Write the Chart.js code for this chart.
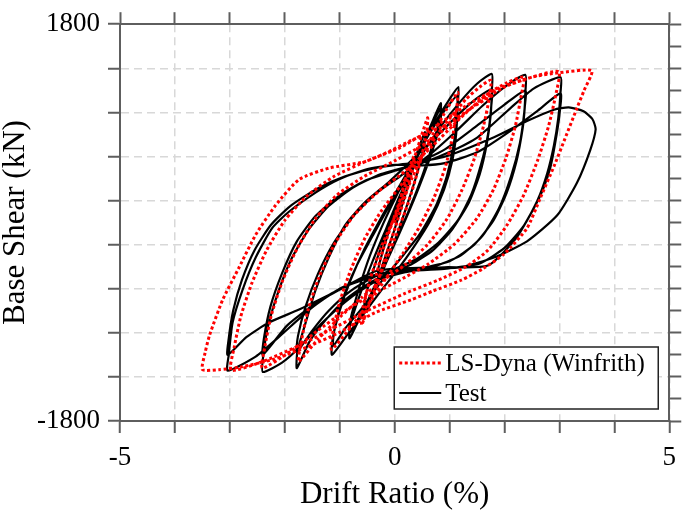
<!DOCTYPE html>
<html>
<head>
<meta charset="utf-8">
<script src="https://cdn.jsdelivr.net/npm/chart.js@4.4.0/dist/chart.umd.min.js"></script>
<style>
  html, body { margin: 0; padding: 0; background: #fff; }
  #wrap { width: 685px; height: 510px; }
</style>
</head>
<body>
<div id="wrap"><canvas id="chart" width="685" height="510"></canvas></div>
<script>
// Hysteresis: drift ratio (%) vs base shear (kN)

// Tick labels
const xTickLabels = [-5, 0, 5];
const yTickLabels = [-1800, 0, 1800];

// Test cycles [drift %, shear kN]
const testCycle1 = [[0,0],[0.1,170],[0.2,350],[0.3,520],[0.29,420],[0.15,180],[0,-60],[-0.15,-280],[-0.3,-500]];
const testCycle2 = [[-0.29,-400],[-0.15,-150],[0,80],[0.2,360],[0.4,620],[0.55,820],[0.54,700],[0.4,430],[0.2,120],[0,-170],[-0.2,-420],[-0.4,-640],[-0.55,-800]];
const testCycle3 = [[-0.54,-690],[-0.4,-450],[-0.2,-160],[0,100],[0.25,400],[0.5,700],[0.7,930],[0.84,1083],[0.83,960],[0.7,720],[0.5,420],[0.25,100],[0,-180],[-0.25,-450],[-0.5,-720],[-0.82,-1050]];
const testCycle4 = [[-0.81,-930],[-0.65,-680],[-0.4,-350],[-0.15,-50],[0.1,250],[0.35,520],[0.6,800],[0.84,1040],[0.83,900],[0.68,640],[0.45,330],[0.2,30],[-0.05,-250],[-0.3,-520],[-0.55,-770],[-0.82,-1000]];
const testCycle5 = [[-0.8,-870],[-0.65,-600],[-0.45,-300],[-0.2,0],[0.05,260],[0.3,500],[0.55,740],[0.8,960],[1.0,1120],[1.16,1231],[1.15,1080],[1.12,800],[1.05,560],[0.9,300],[0.65,20],[0.35,-220],[0.05,-430],[-0.25,-620],[-0.55,-820],[-0.85,-1010],[-1.14,-1199]];
const testCycle6 = [[-1.13,-1060],[-1.0,-800],[-0.8,-520],[-0.55,-240],[-0.25,40],[0.05,300],[0.35,560],[0.65,820],[0.9,1010],[1.14,1150],[1.13,1000],[1.08,720],[0.95,420],[0.75,150],[0.45,-110],[0.1,-330],[-0.25,-540],[-0.6,-780],[-0.9,-960],[-1.12,-1120]];
const testCycle7 = [[-1.1,-980],[-0.95,-700],[-0.7,-400],[-0.4,-120],[-0.1,150],[0.2,380],[0.5,620],[0.85,880],[1.2,1100],[1.5,1260],[1.77,1349],[1.77,1200],[1.75,980],[1.68,720],[1.55,440],[1.35,180],[1.05,-60],[0.7,-250],[0.3,-380],[-0.1,-460],[-0.5,-560],[-0.9,-700],[-1.25,-880],[-1.55,-1080],[-1.78,-1320]];
const testCycle8 = [[-1.77,-1170],[-1.62,-907],[-1.44,-612],[-1.2,-317],[-0.9,-22],[-0.54,184],[-0.12,361],[0.3,560],[0.8,800],[1.2,1000],[1.5,1130],[1.77,1210],[1.76,1060],[1.7,800],[1.58,540],[1.4,260],[1.15,20],[0.8,-180],[0.4,-330],[0,-420],[-0.4,-500],[-0.8,-620],[-1.2,-800],[-1.5,-980],[-1.78,-1172]];
const testCycle9 = [[-1.76,-1030],[-1.62,-760],[-1.4,-470],[-1.1,-180],[-0.75,60],[-0.35,260],[0.1,420],[0.6,600],[1.1,820],[1.6,1060],[2.0,1230],[2.38,1340],[2.38,1180],[2.36,1000],[2.28,720],[2.12,420],[1.9,130],[1.6,-120],[1.2,-300],[0.7,-400],[0.2,-450],[-0.3,-520],[-0.8,-680],[-1.3,-900],[-1.75,-1140],[-2.05,-1270],[-2.4,-1355]];
const testCycle10 = [[-2.39,-1200],[-2.3,-930],[-2.12,-630],[-1.88,-330],[-1.56,-60],[-1.2,150],[-0.75,320],[-0.25,440],[0.3,520],[0.9,660],[1.5,880],[2.0,1070],[2.38,1200],[2.37,1050],[2.33,850],[2.22,560],[2.04,270],[1.8,20],[1.45,-200],[1.0,-350],[0.4,-420],[-0.2,-460],[-0.8,-560],[-1.4,-720],[-1.95,-930],[-2.4,-1199]];
const testCycle11 = [[-2.38,-1050],[-2.26,-760],[-2.05,-460],[-1.78,-170],[-1.44,60],[-1.02,240],[-0.54,380],[0,470],[0.5,540],[1.0,640],[1.51,774],[2.11,1039],[2.53,1216],[3.02,1320],[3.02,1180],[2.98,950],[2.9,700],[2.78,450],[2.6,200],[2.35,-30],[2.0,-230],[1.55,-370],[0.9,-420],[0.2,-440],[-0.4,-480],[-1.0,-600],[-1.51,-774],[-2.11,-1039],[-2.53,-1216],[-3.04,-1343]];
const testCycle12 = [[-3.02,-1200],[-2.95,-907],[-2.77,-612],[-2.53,-317],[-2.23,-51],[-1.93,96],[-1.44,272],[-1.02,391],[-0.54,479],[0,524],[0.5,520],[0.91,540],[1.51,640],[2.11,833],[2.59,1010],[3.02,1172],[3.01,1020],[2.95,800],[2.84,509],[2.7,300],[2.53,126],[2.2,-150],[1.7,-390],[0.91,-405],[-0.3,-435],[-1.02,-612],[-1.74,-789],[-2.29,-907],[-2.7,-1040],[-3.04,-1201]];
const testCycle13 = [[-3.02,-1050],[-2.94,-800],[-2.78,-520],[-2.55,-250],[-2.25,-20],[-1.9,150],[-1.4,310],[-0.9,420],[-0.3,500],[0.3,540],[0.91,597],[1.81,774],[2.41,921],[2.9,1024],[3.17,1045],[3.44,1010],[3.6,940],[3.66,847],[3.56,656],[3.32,361],[2.96,66],[2.41,-170],[1.81,-317],[1.21,-405],[0.6,-420],[0.1,-425]];

// LS-Dyna (Winfrith) cycles [drift %, shear kN]
const dynaCycle1 = [[0,0],[0.1,200],[0.2,400],[0.35,600],[0.33,480],[0.2,250],[0,-60],[-0.2,-360],[-0.35,-600]];
const dynaCycle2 = [[-0.33,-470],[-0.2,-230],[0,60],[0.2,350],[0.4,650],[0.6,950],[0.58,800],[0.45,520],[0.25,180],[0,-150],[-0.25,-460],[-0.45,-720],[-0.6,-930]];
const dynaCycle3 = [[-0.58,-780],[-0.45,-520],[-0.25,-230],[0,50],[0.25,330],[0.5,600],[0.75,850],[0.95,1030],[1.15,1180],[1.12,1000],[1.05,760],[0.92,500],[0.72,230],[0.45,-40],[0.15,-280],[-0.15,-500],[-0.45,-720],[-0.8,-950],[-1.15,-1150]];
const dynaCycle4 = [[-1.12,-980],[-1.0,-720],[-0.8,-430],[-0.55,-150],[-0.25,100],[0.1,330],[0.5,600],[0.9,880],[1.3,1120],[1.55,1230],[1.75,1290],[1.72,1120],[1.62,880],[1.45,580],[1.22,290],[0.95,30],[0.6,-200],[0.2,-380],[-0.2,-520],[-0.6,-680],[-1.0,-860],[-1.4,-1060],[-1.75,-1260]];
const dynaCycle5 = [[-1.7,-1080],[-1.58,-800],[-1.38,-500],[-1.1,-200],[-0.75,60],[-0.3,280],[0.2,470],[0.7,700],[1.2,950],[1.7,1170],[2.05,1270],[2.35,1320],[2.3,1140],[2.2,880],[2.03,590],[1.8,300],[1.5,40],[1.1,-190],[0.6,-380],[0.1,-520],[-0.4,-650],[-0.9,-800],[-1.4,-980],[-1.9,-1170],[-2.41,-1320]];
const dynaCycle6 = [[-2.36,-1120],[-2.25,-850],[-2.05,-540],[-1.78,-240],[-1.45,30],[-1.05,250],[-0.55,420],[0,560],[0.5,700],[1.0,880],[1.5,1080],[2.0,1230],[2.5,1320],[2.99,1369],[2.93,1150],[2.8,870],[2.6,560],[2.35,250],[2.05,-20],[1.7,-250],[1.3,-400],[0.8,-520],[0.2,-640],[-0.5,-800],[-1.2,-980],[-1.8,-1130],[-2.4,-1260],[-2.98,-1340]];
const dynaCycle7 = [[-2.92,-1130],[-2.8,-850],[-2.6,-550],[-2.33,-250],[-2.0,20],[-1.6,240],[-1.1,420],[-0.5,560],[0.1,680],[0.7,860],[1.3,1060],[1.9,1220],[2.5,1320],[3.0,1360],[3.59,1378],[3.45,1200],[3.32,1039],[3.1,760],[2.9,509],[2.65,220],[2.41,-51],[1.99,-287],[1.6,-420],[1.21,-523],[0.7,-620],[0.3,-700],[-0.36,-818],[-1.02,-1000],[-1.6,-1130],[-2.2,-1240],[-2.8,-1310],[-3.2,-1334],[-3.5,-1334]];
const dynaCycle8 = [[-3.45,-1180],[-3.37,-1022],[-3.13,-700],[-2.83,-405],[-2.53,-111],[-2.17,155],[-1.74,391],[-1.2,494],[-0.54,553],[-0.06,656],[0.3,745],[0.91,880],[1.4,1040],[1.8,1160]];

const toPoints = cycles => [].concat(...cycles).map(([x, y]) => ({ x, y }));

const testData = toPoints([testCycle1, testCycle2, testCycle3, testCycle4, testCycle5, testCycle6, testCycle7,
  testCycle8, testCycle9, testCycle10, testCycle11, testCycle12, testCycle13]);
const dynaData = toPoints([dynaCycle1, dynaCycle2, dynaCycle3, dynaCycle4, dynaCycle5, dynaCycle6, dynaCycle7, dynaCycle8]);

const serif = '"Liberation Serif", "Times New Roman", serif';
const axisColor = '#5e5e5e';
const gridColor = '#d8d8d8';

Chart.defaults.font.family = serif;
Chart.defaults.color = '#000';

// Legend box drawn inside the plot, lower right
const boxLegend = {
    id: 'boxLegend',
    afterDraw(chart) {
        const ctx = chart.ctx;
        const area = chart.chartArea;
        const w = 264, h = 62;
        const left = area.right - 11 - w;
        const top = area.bottom - 12 - h;
        ctx.save();
        ctx.fillStyle = '#fff';
        ctx.fillRect(left, top, w, h);
        ctx.strokeStyle = '#222';
        ctx.lineWidth = 1.5;
        ctx.strokeRect(left, top, w, h);
        chart.data.datasets.forEach((ds, i) => {
            const y = top + 16 + i * 30;
            ctx.strokeStyle = ds.borderColor;
            ctx.lineWidth = ds.borderWidth;
            ctx.setLineDash(ds.borderDash || []);
            ctx.beginPath();
            ctx.moveTo(left + 5, y);
            ctx.lineTo(left + 47, y);
            ctx.stroke();
            ctx.setLineDash([]);
            ctx.fillStyle = '#000';
            ctx.font = '25px ' + serif;
            ctx.textBaseline = 'middle';
            ctx.fillText(ds.label, left + 51, y + 1);
        });
        ctx.restore();
    }
};

const edgeGrid = { drawOnChartArea: false, tickLength: 12, tickColor: axisColor, tickWidth: 2, color: axisColor };
const edgeBorder = { color: axisColor, width: 2 };

new Chart(document.getElementById('chart'), {
    type: 'scatter',
    data: {
        datasets: [
            {
                label: 'LS-Dyna (Winfrith)',
                data: dynaData,
                showLine: true,
                borderColor: '#ff0000',
                borderWidth: 3,
                borderDash: [3, 2.5],
                pointRadius: 0,
                tension: 0.2,
                fill: false
            },
            {
                label: 'Test',
                data: testData,
                showLine: true,
                borderColor: '#000',
                borderWidth: 2.2,
                pointRadius: 0,
                tension: 0.2,
                fill: false
            }
        ]
    },
    options: {
        responsive: false,
        animation: false,
        events: [],
        layout: { padding: 0 },
        plugins: {
            legend: { display: false },
            tooltip: { enabled: false }
        },
        scales: {
            x: {
                type: 'linear',
                position: 'bottom',
                min: -5,
                max: 5,
                afterFit: s => { s.height = 89; },
                ticks: {
                    stepSize: 1,
                    padding: 9,
                    maxRotation: 0,
                    autoSkip: false,
                    font: { size: 27 },
                    callback: v => xTickLabels.includes(Math.round(v * 1000) / 1000) ? String(v) : ''
                },
                grid: { color: gridColor, lineWidth: 1.5, tickLength: 12, tickColor: axisColor, tickWidth: 2 },
                border: { color: axisColor, width: 2, dash: [8, 5] },
                title: {
                    display: true,
                    text: 'Drift Ratio (%)',
                    font: { size: 31, lineHeight: 1 },
                    padding: { top: 0, bottom: 0 }
                }
            },
            y: {
                type: 'linear',
                position: 'left',
                min: -1800,
                max: 1800,
                afterFit: s => { s.width = 120; },
                ticks: {
                    stepSize: 200,
                    padding: 8,
                    font: { size: 27 },
                    callback: v => yTickLabels.includes(Math.round(v)) ? String(v) : ''
                },
                grid: { color: gridColor, lineWidth: 1.5, tickLength: 12, tickColor: axisColor, tickWidth: 2 },
                border: { color: axisColor, width: 2, dash: [8, 5] },
                title: {
                    display: true,
                    text: 'Base Shear (kN)',
                    font: { size: 31, lineHeight: 1 },
                    padding: { top: 0, bottom: 0 }
                }
            },
            xTop: {
                type: 'linear',
                position: 'top',
                min: -5,
                max: 5,
                afterFit: s => { s.height = 14; },
                ticks: { display: false, stepSize: 1 },
                grid: edgeGrid,
                border: edgeBorder
            },
            yRight: {
                type: 'linear',
                position: 'right',
                min: -1800,
                max: 1800,
                afterFit: s => { s.width = 12; },
                ticks: { display: false, stepSize: 200 },
                grid: edgeGrid,
                border: edgeBorder
            }
        }
    },
    plugins: [boxLegend]
});
</script>
</body>
</html>
